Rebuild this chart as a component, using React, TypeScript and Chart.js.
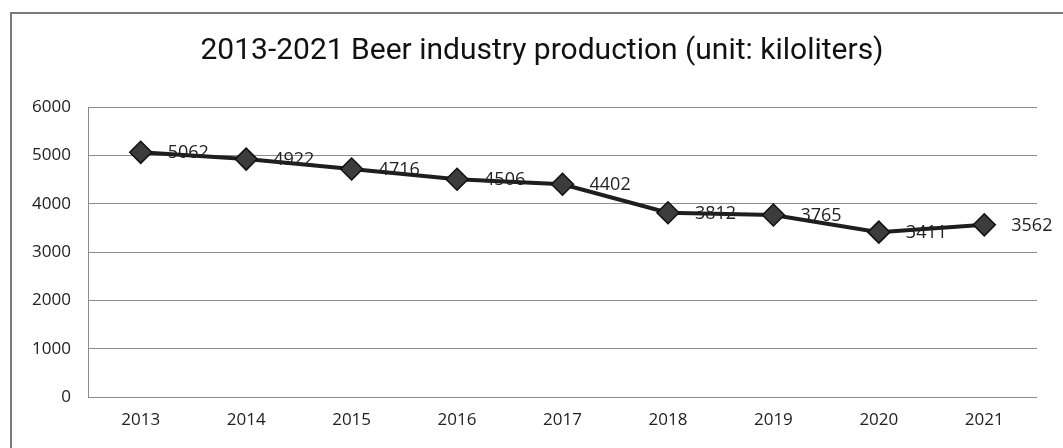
import React, { useEffect, useRef } from "react";
import { Chart, registerables } from "chart.js";

Chart.register(...registerables);

const years = ["2013", "2014", "2015", "2016", "2017", "2018", "2019", "2020", "2021"];
const production = [5062, 4922, 4716, 4506, 4402, 3812, 3765, 3411, 3562];
const yMin = 0;
const yMax = 6000;
const yStep = 1000;
const titleText = "2013-2021 Beer industry production (unit: kiloliters)";

const pointLabels = {
  id: "pointLabels",
  afterDatasetsDraw(chart: any) {
    const ctx = chart.ctx;
    const meta = chart.getDatasetMeta(0);
    const values = chart.data.datasets[0].data as number[];
    ctx.save();
    ctx.font = '18px "Open Sans"';
    ctx.fillStyle = "#222";
    ctx.textAlign = "left";
    ctx.textBaseline = "middle";
    meta.data.forEach((pt: any, i: number) => {
      ctx.fillText(String(values[i]), pt.x + 27, pt.y + 1);
    });
    ctx.restore();
  },
};

const chartTitle = {
  id: "chartTitle",
  afterDraw(chart: any) {
    const ctx = chart.ctx;
    ctx.save();
    ctx.font = '30px "Roboto"';
    ctx.fillStyle = "#111";
    ctx.textAlign = "center";
    ctx.textBaseline = "middle";
    ctx.fillText(titleText, 542, 51);
    ctx.restore();
  },
};

export default function App() {
  const ref = useRef<HTMLCanvasElement | null>(null);

  useEffect(() => {
    if (!ref.current) return;
    const chart = new Chart(ref.current, {
      type: "line",
      data: {
        labels: years,
        datasets: [
          {
            data: production,
            borderColor: "#1e1e1e",
            borderWidth: 4,
            pointStyle: "rectRot",
            pointRadius: 11,
            pointBackgroundColor: "#3c3c3c",
            pointBorderColor: "#111",
            pointBorderWidth: 1.5,
            tension: 0,
            clip: false,
          },
        ],
      },
      options: {
        responsive: false,
        animation: false,
        devicePixelRatio: 1,
        layout: { padding: { left: 10, right: 26, top: 107, bottom: 0 } },
        plugins: {
          legend: { display: false },
          tooltip: { enabled: false },
          title: { display: false },
        },
        scales: {
          x: {
            offset: true,
            grid: { display: false, drawTicks: false },
            border: { display: false },
            ticks: {
              color: "#222",
              font: { family: "Open Sans", size: 17 },
              padding: 13,
              maxRotation: 0,
            },
            afterFit(scale: any) {
              scale.height = 51;
            },
          },
          y: {
            min: yMin,
            max: yMax,
            ticks: {
              stepSize: yStep,
              color: "#222",
              font: { family: "Open Sans", size: 17 },
              padding: 17,
              callback: (v: any) => String(v),
            },
            grid: { color: "#8c8c8c", lineWidth: 1, drawTicks: false },
            border: { display: true, color: "#8c8c8c", width: 1 },
            afterFit(scale: any) {
              scale.width = 78;
            },
          },
        },
      },
      plugins: [pointLabels, chartTitle],
    });
    return () => chart.destroy();
  }, []);

  return (
    <div
      style={{
        position: "fixed",
        left: 0,
        top: 0,
        width: 1063,
        height: 448,
        background: "#fff",
      }}
    >
      <div
        style={{
          position: "absolute",
          left: 10,
          top: 12,
          width: 1060,
          height: 434,
          borderTop: "2px solid #7a7a7a",
          borderLeft: "2px solid #7a7a7a",
          borderBottom: "1px solid #b0b0b0",
        }}
      />
      <canvas
        ref={ref}
        width={1063}
        height={448}
        style={{ position: "absolute", left: 0, top: 0, display: "block" }}
      />
    </div>
  );
}
